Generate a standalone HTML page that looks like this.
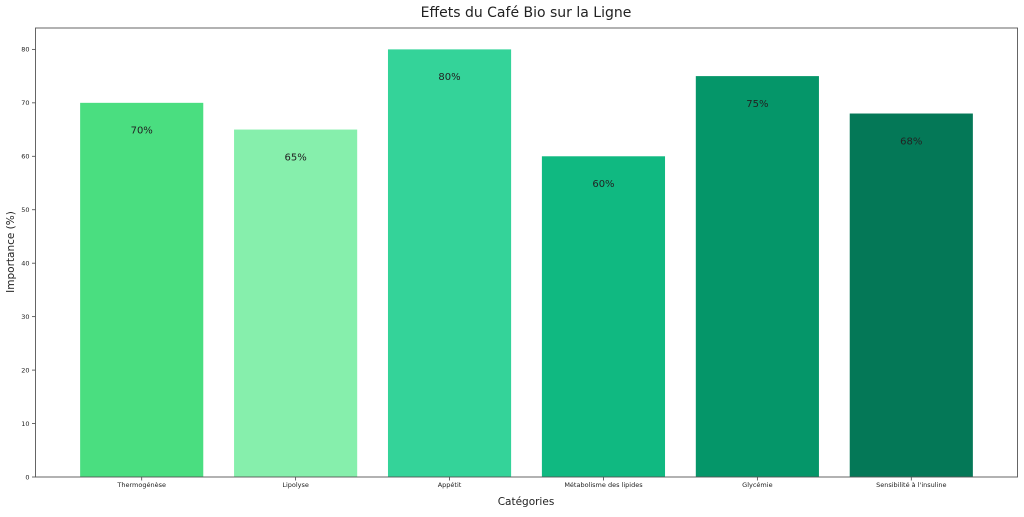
<!DOCTYPE html>
<html><head><meta charset="utf-8"><style>
body{margin:0;background:#fff;width:1024px;height:512px;overflow:hidden;font-family:"Liberation Sans","DejaVu Sans",sans-serif}
</style></head><body>
<svg id="chart" width="1024" height="512" xmlns="http://www.w3.org/2000/svg" font-family="'DejaVu Sans','Liberation Sans',sans-serif">
<text x="526" y="17" text-anchor="middle" font-size="14" fill="#222">Effets du Café Bio sur la Ligne</text>
<text x="526" y="505" text-anchor="middle" font-size="10.5" fill="#222">Catégories</text>
<text transform="translate(14,252) rotate(-90)" text-anchor="middle" font-size="10.5" fill="#222">Importance (%)</text>
<g id="bars"></g><g id="axes"></g>
</svg>
<script>
const categories=["Thermogénèse","Lipolyse","Appétit","Métabolisme des lipides","Glycémie","Sensibilité à l'insuline"];
const values=[70,65,80,60,75,68];
const colors=["#4ade80","#86efac","#34d399","#10b981","#059669","#047857"];
const yTicks=[0,10,20,30,40,50,60,70,80];
const L=35.5,R=1017.5,T=28,B=477,yMax=84;
const n=categories.length;
const step=(R-L)/(n-1+0.8+0.58);
const x=i=>L+(0.69+i)*step;
const y=v=>B-(v/yMax)*(B-T);
const NS="http://www.w3.org/2000/svg";
const bars=document.getElementById('bars'),axes=document.getElementById('axes');
function mk(t,a,p){const e=document.createElementNS(NS,t);for(const k in a)e.setAttribute(k,a[k]);p.appendChild(e);return e;}
categories.forEach((c,i)=>{
 const w=0.8*step;
 const r=mk('rect',{x:x(i)-w/2,y:y(values[i]),width:w,height:B-y(values[i]),fill:colors[i]},bars);
 
 
 const t=mk('text',{x:x(i),y:y(values[i]-5)+4,'text-anchor':'middle','font-size':'10',fill:'#222'},bars);
 t.textContent=values[i]+'%';
 
 
 mk('line',{x1:x(i),x2:x(i),y1:B,y2:B+3.5,stroke:'#444','stroke-width':0.8},axes);
 const xl=mk('text',{x:x(i),y:B+10,'text-anchor':'middle','font-size':'6.5',fill:'#222'},axes);
 xl.textContent=c;
 
 
});
yTicks.forEach(v=>{
 mk('line',{x1:L-3.5,x2:L,y1:y(v),y2:y(v),stroke:'#444','stroke-width':0.8},axes);
 const t=mk('text',{x:L-6,y:y(v)+2.3,'text-anchor':'end','font-size':'6.5',fill:'#222'},axes);
 t.textContent=v;
 
 
});
const f=mk('rect',{x:L,y:T,width:R-L,height:B-T,fill:'none',stroke:'#555','stroke-width':0.9},axes);


</script>
</body></html>
